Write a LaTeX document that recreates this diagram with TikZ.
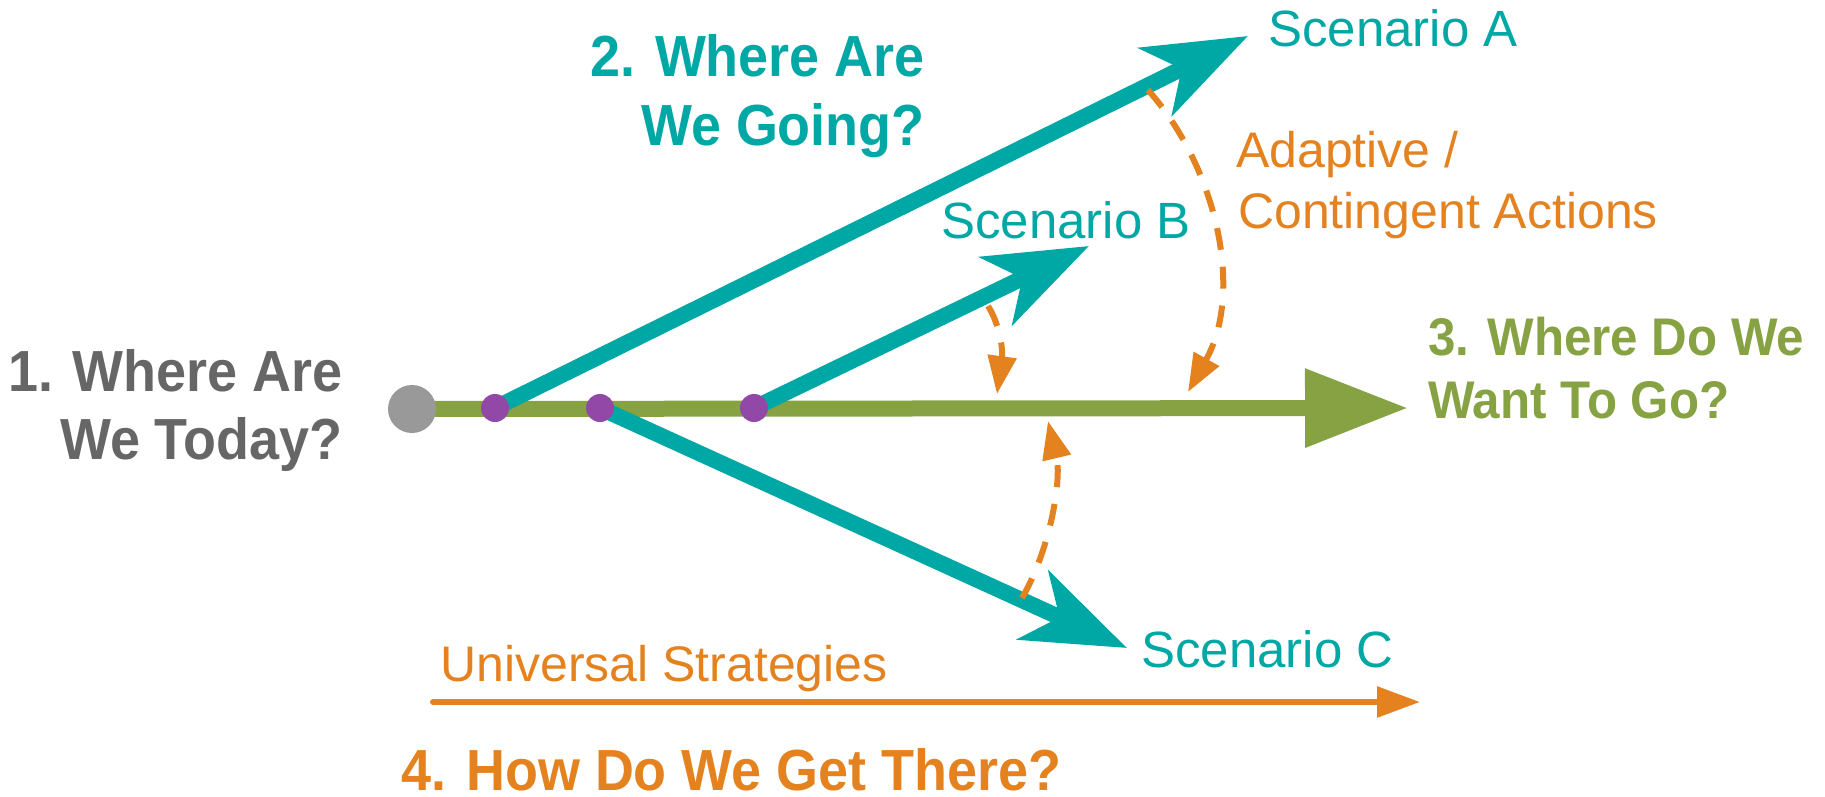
\documentclass[tikz,border=0pt]{standalone}
\usepackage{fontspec}
\setmainfont{Liberation Sans}
\newfontfamily\hbold[FakeStretch=0.93]{Liberation Sans Bold}
\usetikzlibrary{arrows.meta}
\definecolor{teal1}{RGB}{0,168,165}
\definecolor{green1}{RGB}{134,162,66}
\definecolor{orange1}{RGB}{229,130,32}
\definecolor{graytxt}{RGB}{102,102,102}
\definecolor{graydot}{RGB}{153,153,153}
\definecolor{purple1}{RGB}{146,72,166}
\tikzset{
  heading/.style={inner sep=0pt, font=\hbold\fontsize{58}{58}\selectfont},
  heading3/.style={inner sep=0pt, font=\hbold\fontsize{53}{53}\selectfont},
  label/.style={inner sep=0pt, font=\fontsize{51}{51}\selectfont},
  smalllabel/.style={inner sep=0pt, font=\fontsize{50}{50}\selectfont},
  scen/.style={draw=teal1, line width=16pt, -{Stealth[length=103pt, width=75pt, inset=29pt]}},
  adapt/.style={draw=orange1, line width=6pt, dash pattern=on 22pt off 17pt, -{Triangle[length=38pt, width=28pt]}},
  branch/.style={circle, fill=purple1, minimum size=28pt, inner sep=0pt},
  origin/.style={circle, fill=graydot, minimum size=48pt, inner sep=0pt},
}
\begin{document}
\begin{tikzpicture}[x=1pt, y=-1pt]
\useasboundingbox (0,0) rectangle (1825,797);
% key positions
\coordinate (c0) at (412,409);
\coordinate (goal) at (1408,408);
\coordinate (tipA) at (1248,36);
\coordinate (tipB) at (1089,246);
\coordinate (tipC) at (1127,648);
\coordinate (p1) at (495,408);
\coordinate (p2) at (600,408);
\coordinate (p3) at (754,408);
% green main arrow
\draw[green1, line width=16pt, -{Triangle[length=103pt, width=75pt]}] (c0) -- (goal);
% scenario arrows
\draw[scen] (p1) -- (tipA);
\draw[scen] (p3) -- (tipB);
\draw[scen] (p2) -- (tipC);
% origin and branch points
\node[origin] (today) at (c0) {};
\node[branch] (b1) at (p1) {};
\node[branch] (b2) at (p2) {};
\node[branch] (b3) at (p3) {};
% adaptive dashed arrows
\coordinate (sA) at (1148,90);
\coordinate (eA) at (1188,392);
\coordinate (sB) at (988,306);
\coordinate (eB) at (997,394);
\coordinate (sC) at (1022,598);
\coordinate (eC) at (1048,421);
\draw[adapt] (sA) .. controls (1215,165) and (1245,290) .. (eA);
\draw[adapt] (sB) .. controls (1000,325) and (1003,350) .. (eB);
\draw[adapt] (sC) .. controls (1050,550) and (1062,480) .. (eC);
% universal strategies arrow
\coordinate (uS) at (433,702);
\coordinate (uE) at (1420,702);
\draw[orange1, line width=6pt, line cap=round, -{Triangle[length=43pt, width=30pt]}] (uS) -- (uE);
% texts
\node[heading, text=graytxt, anchor=base east] (q1a) at (343,391) {1. Where Are};
\node[heading, text=graytxt, anchor=base east] (q1b) at (343,459) {We Today?};
\node[heading, text=teal1, anchor=base east] (q2a) at (925,77) {2. Where Are};
\node[heading, text=teal1, anchor=base east] (q2b) at (925,146) {We Going?};
\node[heading3, text=green1, anchor=base west] (q3a) at (1428,355) {3. Where Do We};
\node[heading3, text=green1, anchor=base west] (q3b) at (1428,418) {Want To Go?};
\node[heading, text=orange1, anchor=base west, text depth=0pt] (q4) at (401,790) {4. How Do We Get There?};
\node[label, text=teal1, anchor=base west] (lA) at (1268,47) {Scenario A};
\node[label, text=teal1, anchor=base west] (lB) at (941,238) {Scenario B};
\node[label, text=teal1, anchor=base west] (lC) at (1141,667) {Scenario C};
\node[smalllabel, text=orange1, anchor=base west] (ad1) at (1236,167) {Adaptive /};
\node[smalllabel, text=orange1, anchor=base west] (ad2) at (1238,228) {Contingent Actions};
\node[smalllabel, text=orange1, anchor=base west] (us) at (440,681) {Universal Strategies};
\end{tikzpicture}
\end{document}
